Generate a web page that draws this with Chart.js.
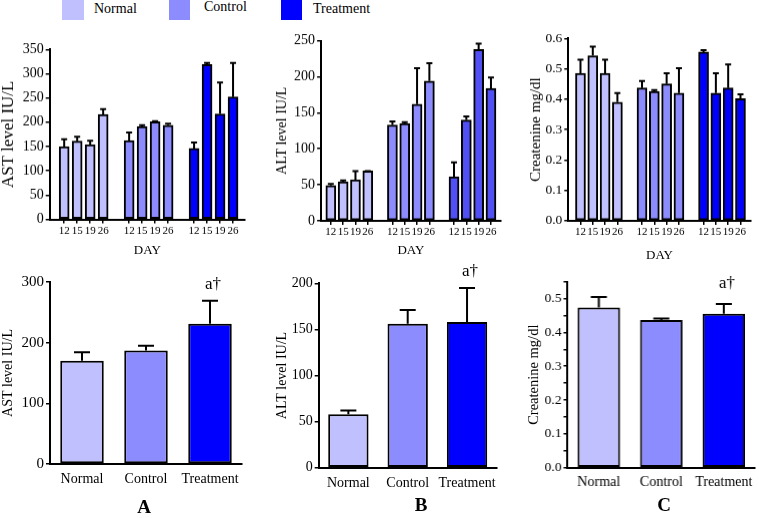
<!DOCTYPE html>
<html><head><meta charset="utf-8">
<script src="https://cdn.jsdelivr.net/npm/chart.js@4"></script>
<style>
html,body{margin:0;padding:0;background:#fff;}
#wrap{position:relative;width:759px;height:518px;overflow:hidden;font-family:"Liberation Serif","Times New Roman",serif;color:#000;background:#fff;}
canvas{position:absolute;}
.sw{position:absolute;top:0;height:20px;}
.lt{position:absolute;font-size:14px;line-height:18px;top:0;white-space:nowrap;}
.pl{position:absolute;font-size:19px;font-weight:bold;line-height:22px;transform:translateX(-50%);}
</style></head><body>
<div id="wrap">
  <div class="sw" style="left:62px;width:22px;background:#c0c0ff"></div>
  <div class="lt" style="left:94px">Normal</div>
  <div class="sw" style="left:169px;width:21px;background:#8c8cff"></div>
  <div class="lt" style="left:204px;top:-2px">Control</div>
  <div class="sw" style="left:281px;width:21px;background:#0000ff"></div>
  <div class="lt" style="left:313px">Treatment</div>
  <canvas id="c1"></canvas><canvas id="c2"></canvas><canvas id="c3"></canvas>
  <canvas id="c4"></canvas><canvas id="c5"></canvas><canvas id="c6"></canvas>
  <div class="pl" style="left:144px;top:496px">A</div>
  <div class="pl" style="left:421px;top:494px">B</div>
  <div class="pl" style="left:664px;top:494px">C</div>
</div>
<script>
// ---------- data ----------
const dayLabels = ['12','15','19','26','','12','15','19','26','','12','15','19','26'];
const groupNames = ['Normal','Control','Treatment'];

const astNormal = [150,161,154,216];
const astNormalErr = [15,9,8,11];
const astControl = [162,191,201,194];
const astControlErr = [17,3,1,3];
const astTreatment = [146,319,217,252];
const astTreatmentErr = [12,3,65,70];

const altNormal = [49,54,57,69];
const altNormalErr = [2,2,12,0];
const altControl = [133,135,162,194];
const altControlErr = [5,2,50,25];
const altTreatment = [61,140,238,184];
const altTreatmentErr = [20,5,8,15];

const creNormal = [0.485,0.543,0.485,0.39];
const creNormalErr = [0.045,0.03,0.045,0.03];
const creControl = [0.437,0.426,0.45,0.42];
const creControlErr = [0.023,0.004,0.035,0.082];
const creTreatment = [0.555,0.42,0.437,0.402];
const creTreatmentErr = [0.006,0.065,0.077,0.014];

const astMean = [170,187,231];
const astMeanErr = [14,8,38];
const altMean = [58,156,158];
const altMeanErr = [4,15,37];
const creMean = [0.474,0.437,0.455];
const creMeanErr = [0.031,0.004,0.029];

const sigLabel = 'a\u2020';

// ---------- helpers ----------
const FONT = '"Liberation Serif","Times New Roman",serif';
const colNormal = '#c0c0ff', colControl = '#8c8cff', colTreat = '#0000ff';

const slotIdx = dayLabels.map((l,i)=> l!=='' ? i : -1).filter(i=>i>=0);
const groupIdx = [slotIdx.slice(0,4), slotIdx.slice(4,8), slotIdx.slice(8,12)];

function place(cv,L,T,W,H){
  cv.width=W; cv.height=H;
  cv.style.left=L+'px'; cv.style.top=T+'px';
  cv.style.width=W+'px'; cv.style.height=H+'px';
}

const errorBars = {
  id:'errorBars',
  afterDatasetsDraw(chart, args, opts){
    const ctx = chart.ctx, ys = chart.scales.y;
    chart.data.datasets.forEach((ds, di)=>{
      if(!ds.errors) return;
      const meta = chart.getDatasetMeta(di);
      meta.data.forEach((bar,i)=>{
        const e = ds.errors[i]; if(e==null) return;
        const raw = ds.data[i]; const v = (typeof raw==='object') ? raw.y : raw;
        const yTop = ys.getPixelForValue(v+e);
        const cap = opts.cap || 6;
        ctx.save();
        ctx.strokeStyle='#000'; ctx.lineWidth=opts.lineWidth||2;
        ctx.beginPath();
        ctx.moveTo(bar.x, bar.y); ctx.lineTo(bar.x, yTop);
        ctx.moveTo(bar.x-cap/2, yTop); ctx.lineTo(bar.x+cap/2, yTop);
        ctx.stroke();
        ctx.restore();
      });
    });
    if(opts.sig){
      const ds = chart.data.datasets[0];
      const meta = chart.getDatasetMeta(0);
      const i = opts.sig.index;
      const bar = meta.data[i];
      const yTop = ys.getPixelForValue(ds.data[i] + ds.errors[i]);
      ctx.save();
      ctx.fillStyle='#000'; ctx.font = opts.sig.size+'px '+FONT;
      ctx.textAlign='center'; ctx.textBaseline='middle';
      ctx.fillText(opts.sig.text, bar.x+3, yTop-opts.sig.offset);
      ctx.restore();
    }
  }
};

function yAxis(min,max,step,title,titleSize,width,fmt,tickSize){
  return {
    min:min, max:max,
    afterFit: ax => { ax.width = width; },
    ticks:{stepSize:step, callback:fmt, font:{family:FONT,size:tickSize}, color:'#000', padding:2, autoSkip:false},
    grid:{display:true, drawOnChartArea:false, drawTicks:true, tickLength:4, color:'#000', lineWidth:1.5},
    border:{display:true, color:'#000', width:2},
    title:{display:true, text:title, font:{family:FONT,size:titleSize}, color:'#000', padding:0}
  };
}

function topChart(id, box, area, series, errs, colors, yCfg, xMin, xMax){
  const [L,T,W,H] = box, [x1,y1,x2,y2] = area;
  const cv = document.getElementById(id); place(cv,L,T,W,H);
  const datasets = series.map((s,g)=>({
    label: groupNames[g],
    data: s.map((v,i)=>({x: groupIdx[g][i], y: v})),
    errors: errs[g],
    backgroundColor: colors[g], borderColor:'#000', borderWidth:2, borderSkipped:false,
    barThickness:10, grouped:false
  }));
  new Chart(cv,{type:'bar', data:{datasets}, options:{
    responsive:false, animation:false, devicePixelRatio:1,
    layout:{padding:{left:0, top:y1-T, right:L+W-x2, bottom:0}},
    plugins:{legend:{display:false}, tooltip:{enabled:false}, errorBars:{cap:6, lineWidth:2}},
    scales:{
      x:{type:'linear', min:xMin, max:xMax, offset:false,
        afterBuildTicks: ax => { ax.ticks = slotIdx.map(v=>({value:v})); },
        afterFit: ax => { ax.height = T+H-y2; },
        ticks:{callback:v=>dayLabels[v], font:{family:FONT,size:11}, color:'#000', padding:1, maxRotation:0, autoSkip:false},
        grid:{display:true, offset:false, drawOnChartArea:false, drawTicks:true, tickLength:4, color:'#000', lineWidth:1.5},
        border:{display:true, color:'#000', width:2},
        title:{display:true, text:'DAY', font:{family:FONT,size:13}, color:'#000', padding:0}
      },
      y: yAxis(yCfg.min,yCfg.max,yCfg.step,yCfg.title,yCfg.titleSize,x1-L,yCfg.fmt,yCfg.tickSize)
    }
  }, plugins:[errorBars]});
}

function bottomChart(id, box, area, values, errs, yCfg, sig, labelPad){
  const [L,T,W,H] = box, [x1,y1,x2,y2] = area;
  const cv = document.getElementById(id); place(cv,L,T,W,H);
  new Chart(cv,{type:'bar', data:{labels:groupNames, datasets:[{
      data: values, errors: errs,
      backgroundColor:[colNormal,colControl,colTreat], borderColor:'#000', borderWidth:2, borderSkipped:false,
      barPercentage:0.68, categoryPercentage:1
    }]}, options:{
    responsive:false, animation:false, devicePixelRatio:1,
    layout:{padding:{left:0, top:y1-T, right:L+W-x2, bottom:0}},
    plugins:{legend:{display:false}, tooltip:{enabled:false}, errorBars:{cap:16, lineWidth:2, sig:sig}},
    scales:{
      x:{
        afterFit: ax => { ax.height = T+H-y2; },
        ticks:{font:{family:FONT,size:14}, color:'#000', padding:labelPad, maxRotation:0, autoSkip:false},
        grid:{display:true, drawOnChartArea:false, drawTicks:false, color:'#000', lineWidth:1.5},
        border:{display:true, color:'#000', width:2}
      },
      y: yAxis(yCfg.min,yCfg.max,yCfg.step,yCfg.title,yCfg.titleSize,x1-L,yCfg.fmt,yCfg.tickSize)
    }
  }, plugins:[errorBars]});
}

const intFmt = v => String(v);
const dec1 = v => v.toFixed(1);
const dec1Major = v => (Math.abs(v*10 - Math.round(v*10)) < 1e-6) ? v.toFixed(1) : '';

// ---------- top row ----------
topChart('c1', [-2.2,30,252.2,227.8], [49.5,49.3,245,219.3],
  [astNormal,astControl,astTreatment], [astNormalErr,astControlErr,astTreatmentErr],
  [colNormal,colControl,colTreat],
  {min:0,max:350,step:50,title:'AST level IU/L',titleSize:17,fmt:intFmt,tickSize:14}, -1.115, 13.92);

topChart('c2', [273.6,28,231.4,229.8], [320.7,40.7,500.7,220.7],
  [altNormal,altControl,altTreatment], [altNormalErr,altControlErr,altTreatmentErr],
  [colNormal,colControl,'#5050f4'],
  {min:0,max:250,step:50,title:'ALT level IU/L',titleSize:14,fmt:intFmt,tickSize:14}, -0.79, 13.79);

topChart('c3', [527,26,232,236.8], [568.3,38.3,750.7,220.7],
  [creNormal,creControl,creTreatment], [creNormalErr,creControlErr,creTreatmentErr],
  [colNormal,colControl,colTreat],
  {min:0,max:0.6,step:0.1,title:'Createnine mg/dl',titleSize:15,fmt:dec1,tickSize:13.5}, -0.99, 13.83);

// ---------- bottom row ----------
bottomChart('c4', [0,255,250,245], [50,282,242,464], astMean, astMeanErr,
  {min:0,max:300,step:100,title:'AST level IU/L',titleSize:14,fmt:intFmt,tickSize:15},
  {index:2,text:sigLabel,size:17,offset:16}, 7);

bottomChart('c5', [273.6,255,231.4,245], [318.3,283.3,496.7,467.7], altMean, altMeanErr,
  {min:0,max:200,step:50,title:'ALT level IU/L',titleSize:14,fmt:intFmt,tickSize:14},
  {index:2,text:sigLabel,size:17,offset:16}, 7);

bottomChart('c6', [525.3,255,233.7,245], [567.7,281.7,755.7,467.7], creMean, creMeanErr,
  {min:0,max:0.55,step:0.05,title:'Createnine mg/dl',titleSize:14.5,fmt:dec1Major,tickSize:13.5},
  {index:2,text:sigLabel,size:17,offset:20}, 6);
</script>
</body></html>
